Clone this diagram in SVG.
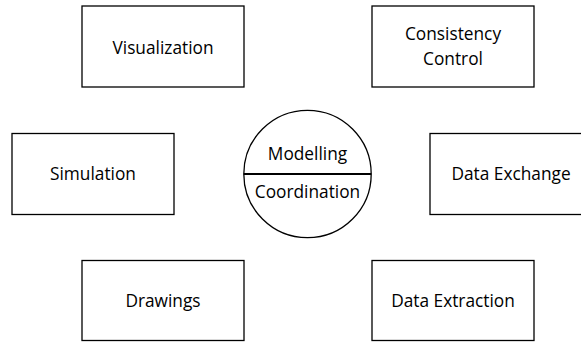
<svg xmlns="http://www.w3.org/2000/svg" width="581" height="342" viewBox="0 0 581 342">
<style>
.box{fill:#fff;stroke:#000;stroke-width:1.3}
.t{font-family:"Open Sans","Liberation Sans",sans-serif;font-size:17.3px;fill:#000;text-anchor:middle}
</style>
<rect width="581" height="342" fill="#fff"/>
<g id="visualization"><rect class="box" x="82" y="6" width="162" height="81"/><text class="t" x="163" y="54">Visualization</text></g>
<g id="consistency-control"><rect class="box" x="372" y="6" width="162" height="81"/><text class="t" x="453" y="40">Consistency</text><text class="t" x="453" y="65">Control</text></g>
<g id="simulation"><rect class="box" x="12" y="133.5" width="162" height="81"/><text class="t" x="93" y="180">Simulation</text></g>
<g id="data-exchange"><rect class="box" x="430" y="133.5" width="162" height="81"/><text class="t" x="511" y="180">Data Exchange</text></g>
<g id="drawings"><rect class="box" x="82" y="260.5" width="162" height="80"/><text class="t" x="163" y="307">Drawings</text></g>
<g id="data-extraction"><rect class="box" x="372" y="260.5" width="162" height="80"/><text class="t" x="453" y="307">Data Extraction</text></g>
<g id="modelling-coordination"><circle class="box" cx="307.5" cy="174" r="63.7"/><line x1="243.8" y1="174" x2="371.2" y2="174" stroke="#000" stroke-width="1.8"/><text class="t" x="307.5" y="160">Modelling</text><text class="t" x="307.5" y="198">Coordination</text></g>
<g id="connectors"></g>
</svg>
